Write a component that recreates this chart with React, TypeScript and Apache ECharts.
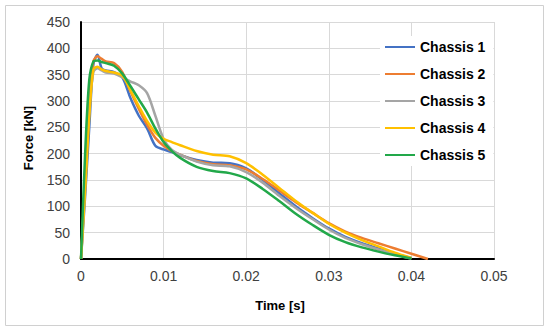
import React, { useEffect, useRef } from "react";
import * as echarts from "echarts";

const times = [0, 0.0005, 0.001, 0.0015, 0.002, 0.0025, 0.003, 0.004, 0.005, 0.006, 0.007, 0.008, 0.009, 0.01, 0.011, 0.012, 0.014, 0.016, 0.018, 0.02, 0.022, 0.024, 0.026, 0.028, 0.03, 0.032, 0.034, 0.036, 0.038, 0.04, 0.042];

const chassis1 = [0, 120, 250, 370, 388, 362, 358, 355, 345, 305, 272, 248, 215, 208, 203, 197, 188, 183, 182, 172, 150, 125, 100, 78, 58, 42, 30, 20, 10, 2, null];
const chassis2 = [0, 150, 300, 375, 385, 380, 375, 372, 355, 318, 285, 255, 230, 215, 205, 198, 186, 180, 178, 170, 152, 130, 108, 88, 68, 52, 40, 30, 20, 10, 0];
const chassis3 = [0, 140, 280, 355, 362, 358, 354, 352, 345, 337, 330, 315, 272, 228, 207, 198, 185, 178, 176, 165, 145, 120, 97, 76, 56, 40, 28, 18, 9, 1, null];
const chassis4 = [0, 130, 270, 360, 365, 360, 357, 354, 348, 320, 290, 262, 240, 228, 222, 216, 205, 198, 195, 182, 160, 135, 110, 88, 67, 50, 36, 24, 12, 2, null];
const chassis5 = [0, 200, 340, 375, 377, 374, 372, 367, 352, 328, 303, 278, 248, 222, 205, 192, 175, 167, 163, 153, 133, 110, 86, 65, 46, 32, 22, 14, 7, 1, null];

const seriesNames = ["Chassis 1", "Chassis 2", "Chassis 3", "Chassis 4", "Chassis 5"];
const seriesValues = [chassis1, chassis2, chassis3, chassis4, chassis5];
const colors = ["#4472C4", "#ED7D31", "#A5A5A5", "#FFC000", "#22A84A"];

const xTicks = { min: 0, max: 0.05, interval: 0.01 };
const yTicks = { min: 0, max: 450, interval: 50 };

export default function App() {
  const ref = useRef<HTMLDivElement>(null);
  useEffect(() => {
    document.body.style.margin = "0";
    const chart = echarts.init(ref.current!, null, { renderer: "svg" });
    const font = "'Liberation Sans', Arial, sans-serif";
    chart.setOption({
      animation: false,
      backgroundColor: "#fff",
      color: colors,
      textStyle: { fontFamily: font },
      grid: { left: 81, right: 56, top: 22, bottom: 72 },
      xAxis: {
        type: "value",
        min: xTicks.min,
        max: xTicks.max,
        interval: xTicks.interval,
        axisLine: { show: true, onZero: false, lineStyle: { color: "#000", width: 2 } },
        axisTick: { show: false },
        axisLabel: {
          color: "#404040",
          fontSize: 14,
          margin: 10,
          fontFamily: font,
          formatter: (v: number) => (v === 0 ? "0" : v.toFixed(2)),
        },
        splitLine: { show: true, lineStyle: { color: "#d9d9d9", width: 1 } },
      },
      yAxis: {
        type: "value",
        min: yTicks.min,
        max: yTicks.max,
        interval: yTicks.interval,
        axisLine: { show: true, lineStyle: { color: "#000", width: 2 } },
        axisTick: { show: false },
        axisLabel: { color: "#404040", fontSize: 14, margin: 11, fontFamily: font },
        splitLine: { show: true, lineStyle: { color: "#d9d9d9", width: 1 } },
      },
      legend: {
        orient: "vertical",
        left: 380,
        top: 36,
        backgroundColor: "#fff",
        padding: [4, 8, 4, 4],
        itemWidth: 30,
        itemHeight: 14,
        itemGap: 13,
        itemStyle: { opacity: 0 },
        textStyle: { color: "#000", fontSize: 14, fontWeight: "bold", fontFamily: font },
        data: seriesNames,
      },
      graphic: [
        {
          type: "rect",
          shape: { x: 5.5, y: 5.5, width: 538, height: 320 },
          style: { fill: "none", stroke: "#d0d0d0", lineWidth: 1 },
          z: -1,
        },
        {
          type: "text",
          x: 28,
          y: 138,
          rotation: Math.PI / 2,
          style: {
            text: "Force [kN]",
            fill: "#000",
            font: `bold 13px ${font}`,
            textAlign: "center",
            textVerticalAlign: "middle",
          },
        },
        {
          type: "text",
          x: 280,
          y: 305,
          style: {
            text: "Time [s]",
            fill: "#000",
            font: `bold 13px ${font}`,
            textAlign: "center",
            textVerticalAlign: "middle",
          },
        },
      ],
      series: seriesNames.map((name, i) => ({
        name,
        type: "line",
        smooth: 0.3,
        symbol: "none",
        connectNulls: false,
        lineStyle: { width: 2.5, color: colors[i] },
        itemStyle: { color: colors[i] },
        data: times.map((t, j) => [t, seriesValues[i][j]]).filter((p) => p[1] !== null),
      })),
    });
    return () => chart.dispose();
  }, []);
  return <div ref={ref} style={{ width: 550, height: 331 }} />;
}
